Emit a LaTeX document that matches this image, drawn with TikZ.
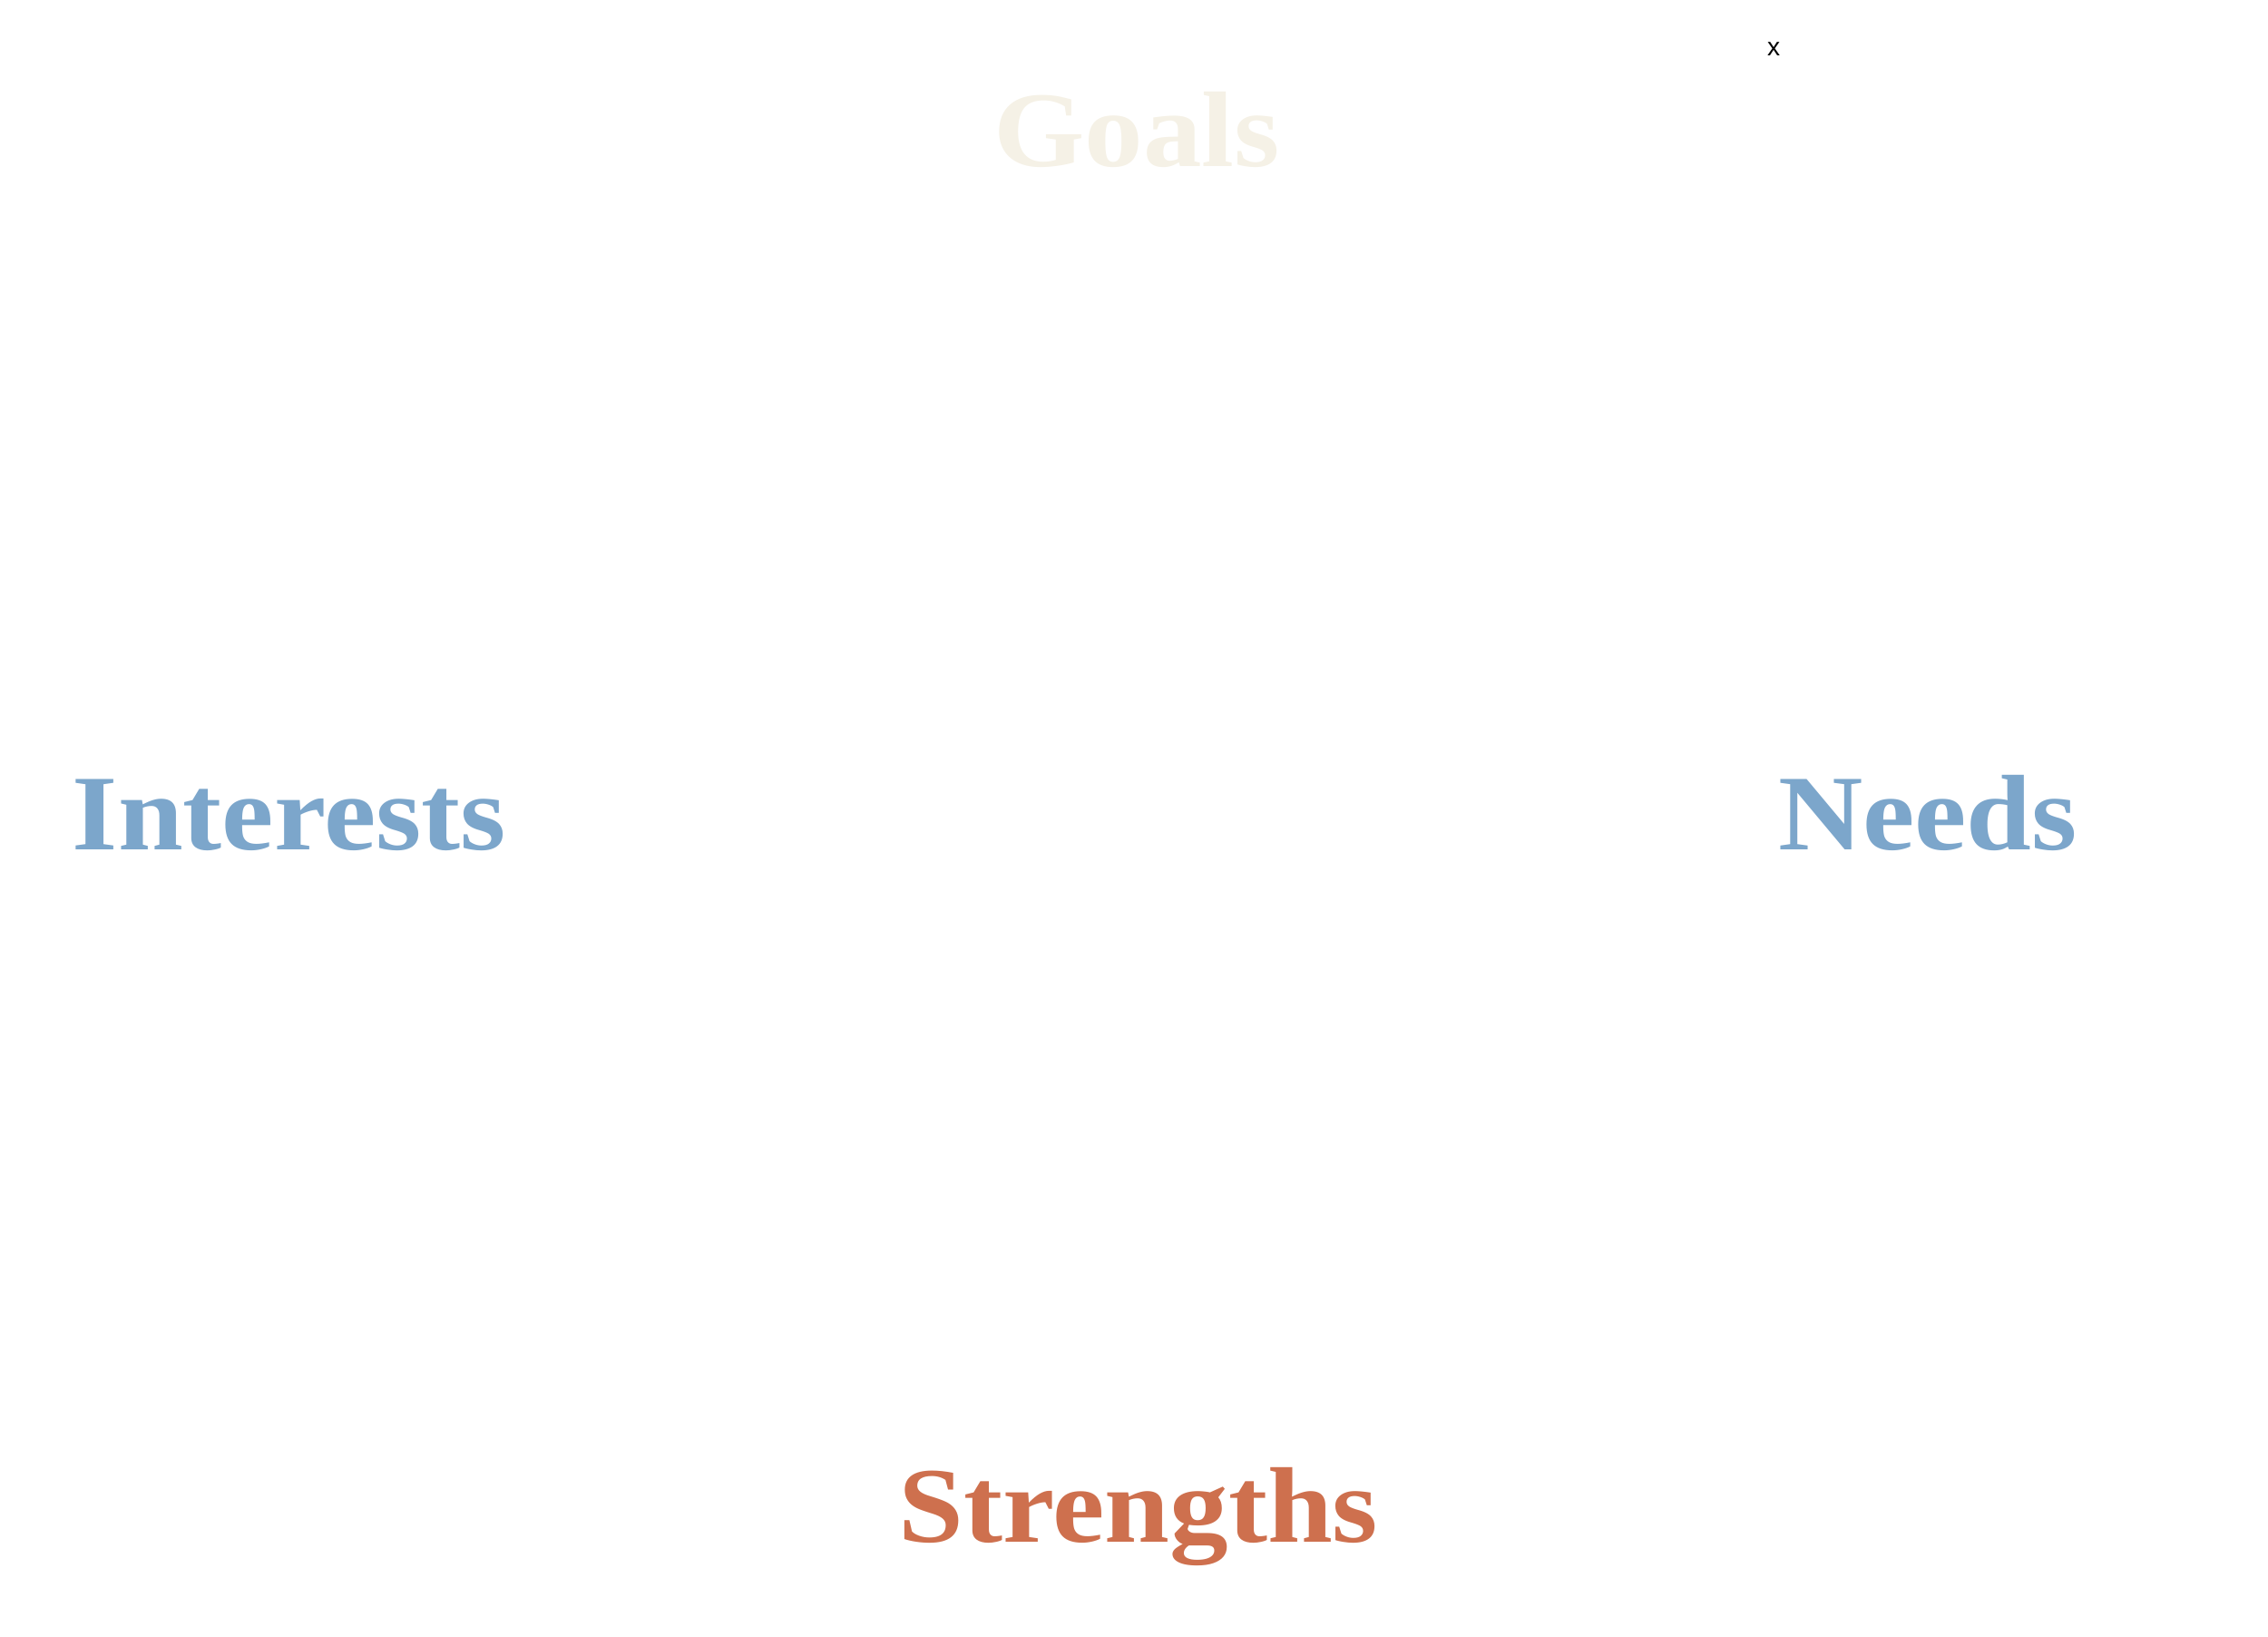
\documentclass[tikz,border=0pt]{standalone}
\usepackage{fontspec}
\setmainfont{Liberation Serif}
\setsansfont{Liberation Sans}
\newfontfamily\wordfont[FakeStretch=1.09]{Liberation Serif}
\usepackage{tikz}
\definecolor{goalcol}{HTML}{F5F1E6}
\definecolor{bluecol}{HTML}{7CA6CB}
\definecolor{rustcol}{HTML}{CE704E}

\begin{document}
\begin{tikzpicture}[
	word/.style = {anchor = base, inner sep = 0pt, font = \wordfont\fontsize{33.7}{38}\selectfont\bfseries}]
\useasboundingbox (0,0) rectangle (25,-18.03);
\node[word, text = goalcol] (goals) at (12.53,-1.83) {Goals};
\node[word, text = bluecol] (interests) at (3.19,-9.36) {Interests};
\node[word, text = bluecol] (needs) at (21.25,-9.36) {Needs};
\node[word, text = rustcol] (strengths) at (12.55,-16.99) {Strengths};
\node[font = \sffamily\fontsize{8}{9}\selectfont, inner sep = 0pt] (close) at (19.55,-0.54) {x};
\end{tikzpicture}
\end{document}
